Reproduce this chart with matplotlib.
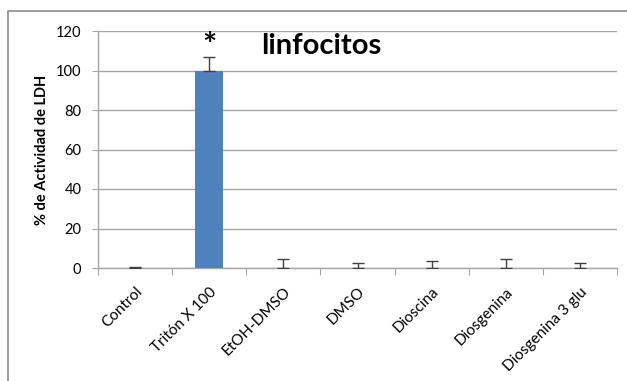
import numpy as np
import matplotlib.pyplot as plt
from matplotlib.lines import Line2D
from matplotlib.transforms import ScaledTranslation

plt.rcParams['font.family'] = ['Lato', 'DejaVu Sans']

# % LDH activity per treatment (lymphocytes)
grupos = ['Control', 'Tritón X 100', 'EtOH-DMSO', 'DMSO', 'Dioscina',
          'Diosgenina', 'Diosgenina 3 glu']
actividad = [0, 100, 0, 0, 0, 0, 0]
error_sup = [0.6, 6.6, 4.4, 2.4, 3.5, 4.4, 2.4]
yticks = [0, 20, 40, 60, 80, 100, 120]

W, H = 627, 381
fig = plt.figure(figsize=(W / 100, H / 100), dpi=100)

# outer chart frame (top and left edges visible)
fx, fy = 8 / W, 1 - 11 / H
fig.add_artist(Line2D([fx, fx, 1.0], [0.0, fy, fy], transform=fig.transFigure,
                      color='#8c8c8c', lw=1.2))

ax = fig.add_axes([98 / W, 1 - 268 / H, (617 - 98) / W, (268 - 31) / H])

x = np.arange(len(grupos))
ax.bar(x, actividad, width=0.38, color='#4f81bd', zorder=3)
ax.errorbar(x, actividad, yerr=[np.zeros(len(x)), error_sup], fmt='none',
            ecolor='#404040', elinewidth=1, capsize=4, capthick=1, zorder=4)

ax.set_xlim(-0.5, len(grupos) - 0.5)
ax.set_ylim(0, 120)
ax.set_yticks(yticks)
ax.yaxis.grid(True, color='#a6a6a6', lw=1)
ax.set_axisbelow(True)

for s in ['top', 'right']:
    ax.spines[s].set_visible(False)
for s in ['left', 'bottom']:
    ax.spines[s].set_color('#a6a6a6')
    ax.spines[s].set_linewidth(1)

# category separators as ticks on the x axis
ax.set_xticks(np.arange(len(grupos) + 1) - 0.5)
ax.set_xticklabels([])
ax.set_xticks(x, minor=True)
ax.set_xticklabels(grupos, minor=True, rotation=45, ha='right', va='top',
                   rotation_mode='anchor', fontsize=11)
shift = ScaledTranslation(3.5 / 100, 0, fig.dpi_scale_trans)
for lbl in ax.get_xticklabels(minor=True):
    lbl.set_transform(lbl.get_transform() + shift)
ax.tick_params(axis='x', which='major', length=5, color='#a6a6a6')
ax.tick_params(axis='x', which='minor', length=0, pad=12)
ax.tick_params(axis='y', length=4, color='#a6a6a6', labelsize=10.5, pad=8)

ax.set_ylabel('% de Actividad de LDH', fontsize=10.5, fontweight='bold',
              labelpad=5)

ax.text(1, 105, '*', ha='center', va='bottom', fontsize=24,
        fontweight='bold')
ax.text(2.51, 108.4, 'linfocitos', ha='center', va='baseline', fontsize=21,
        fontweight='bold')

fig.savefig('out.png', dpi=100)
